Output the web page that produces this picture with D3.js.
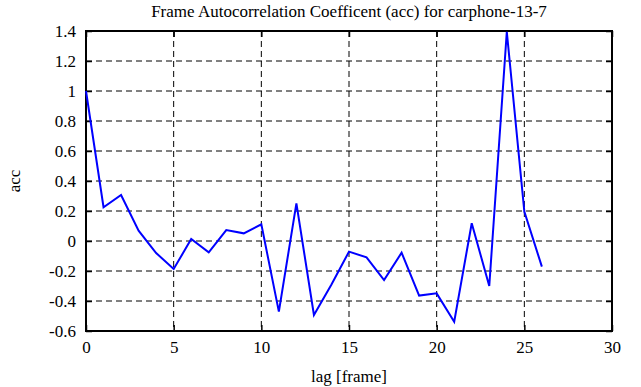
<!DOCTYPE html>
<html lang="en">
<head>
<meta charset="UTF-8">
<title>Frame Autocorrelation Coefficent</title>
<script src="https://d3js.org/d3.v7.min.js"></script>
<style>
  body { margin: 0; background: #fff; }
  text { font-family: "Liberation Serif", "DejaVu Serif", serif; }
</style>
</head>
<body>
<div id="chart"></div>
<script>
// lag values and autocorrelation
var lags = d3.range(0, 27);
var acc = [1.0, 0.225, 0.307, 0.069, -0.08, -0.187, 0.013, -0.076, 0.073, 0.051,
           0.111, -0.471, 0.251, -0.493, -0.29, -0.071, -0.109, -0.26, -0.078, -0.364,
           -0.349, -0.538, 0.118, -0.3, 1.395, 0.196, -0.171];
var xTicks = [0, 5, 10, 15, 20, 25, 30];
var yTicks = [-0.6, -0.4, -0.2, 0, 0.2, 0.4, 0.6, 0.8, 1, 1.2, 1.4];

var width = 641, height = 387;
// plot box (avoid "top" -- it's window.top)
var pLeft = 86, pRight = 612, pTop = 31, pBottom = 331;

var x = d3.scaleLinear().domain([0, 30]).range([pLeft, pRight]);
var y = d3.scaleLinear().domain([-0.6, 1.4]).range([pBottom, pTop]);

var svg = d3.select('#chart').append('svg')
    .attr('width', width)
    .attr('height', height);

// dashed grid
svg.append('g').selectAll('line')
    .data(xTicks.slice(1, -1))
    .enter().append('line')
        .attr('x1', d => x(d)).attr('x2', d => x(d))
        .attr('y1', pTop).attr('y2', pBottom)
        .attr('stroke', '#000').attr('stroke-width', 1)
        .attr('stroke-dasharray', '6,4');
svg.append('g').selectAll('line')
    .data(yTicks.slice(1, -1))
    .enter().append('line')
        .attr('x1', pLeft).attr('x2', pRight)
        .attr('y1', d => y(d)).attr('y2', d => y(d))
        .attr('stroke', '#000').attr('stroke-width', 1)
        .attr('stroke-dasharray', '6,4');

// axes, ticks pointing inward
var fmt = d => String(+d.toFixed(1));
svg.append('g').attr('transform', 'translate(0,' + pBottom + ')')
    .call(d3.axisBottom(x).tickValues(xTicks).tickSizeInner(-6).tickSizeOuter(0).tickPadding(10).tickFormat(fmt));
svg.append('g').attr('transform', 'translate(0,' + pTop + ')')
    .call(d3.axisTop(x).tickValues(xTicks).tickSizeInner(-6).tickSizeOuter(0).tickFormat(''));
svg.append('g').attr('transform', 'translate(' + pLeft + ',0)')
    .call(d3.axisLeft(y).tickValues(yTicks).tickSizeInner(-6).tickSizeOuter(0).tickPadding(10).tickFormat(fmt));
svg.append('g').attr('transform', 'translate(' + pRight + ',0)')
    .call(d3.axisRight(y).tickValues(yTicks).tickSizeInner(-6).tickSizeOuter(0).tickFormat(''));

svg.selectAll('.domain').remove();
svg.selectAll('.tick line').attr('stroke', '#000').attr('stroke-width', 1.5);
svg.selectAll('.tick text')
    .attr('fill', '#000')
    .style('font-family', '"Liberation Serif", serif')
    .style('font-size', '17px');

// frame
svg.append('rect')
    .attr('x', pLeft).attr('y', pTop)
    .attr('width', pRight - pLeft).attr('height', pBottom - pTop)
    .attr('fill', 'none').attr('stroke', '#000').attr('stroke-width', 2);

// data line
var line = d3.line().x((d, i) => x(lags[i])).y(d => y(d));
svg.append('path')
    .datum(acc)
    .attr('d', line)
    .attr('fill', 'none')
    .attr('stroke', '#0000ff')
    .attr('stroke-width', 2);

// labels
svg.append('text')
    .attr('x', 349).attr('y', 17)
    .attr('text-anchor', 'middle')
    .style('font-size', '17px')
    .text('Frame Autocorrelation Coefficent (acc) for carphone-13-7');
svg.append('text')
    .attr('x', 349).attr('y', 382)
    .attr('text-anchor', 'middle')
    .style('font-size', '17px')
    .text('lag [frame]');
svg.append('text')
    .attr('transform', 'translate(20,' + ((pTop + pBottom) / 2) + ') rotate(-90)')
    .attr('text-anchor', 'middle')
    .style('font-size', '17px')
    .text('acc');
</script>
</body>
</html>
